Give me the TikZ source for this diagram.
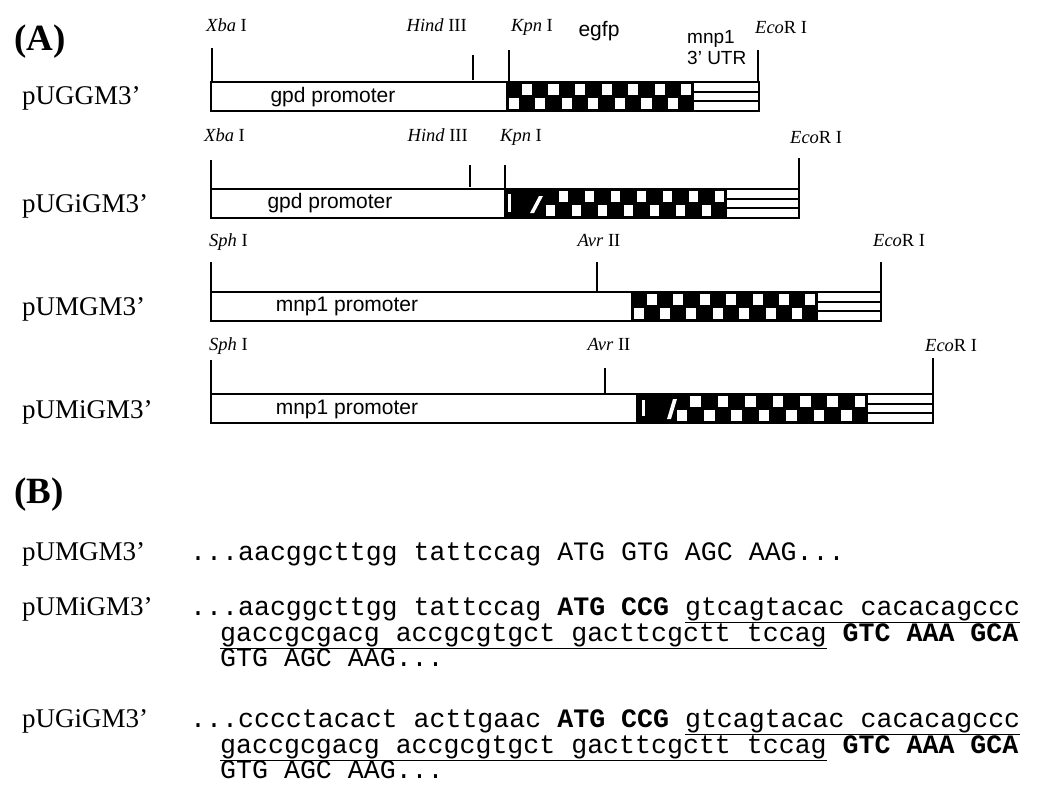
\documentclass[tikz,border=0pt]{standalone}
\usepackage{fontspec}
\setmainfont{Liberation Serif}
\setsansfont{Liberation Sans}
\setmonofont{Liberation Mono}
\usepackage{tikz}

\begin{document}
\begin{tikzpicture}[x=1pt, y=-1pt,
    panel/.style={font=\bfseries\fontsize{37}{39}\selectfont, anchor=base west, inner sep=0pt},
    plasmid/.style={font=\fontsize{27}{29}\selectfont, anchor=base west, inner sep=0pt},
    site/.style={font=\fontsize{18.5}{21}\selectfont, anchor=base, inner sep=0pt},
    part/.style={font=\sffamily\fontsize{21}{23}\selectfont, inner sep=0pt},
    cut/.style={line width=1.5pt},
    box/.style={draw, line width=2pt},
    seq/.style={font=\ttfamily\fontsize{26.6}{28}\selectfont, anchor=base west, inner sep=0pt}]
  \useasboundingbox (0,0) rectangle (1038,803);
  % (A) the four constructs
  \node[panel] (pa) at (14,50) {(A)};
  \foreach \y/\p/\i/\c/\u in {82/507/507/693/759, 189/505/544/726/799,
                              292/632/632/817/881, 394/637/675/867/933} {
    \pgfmathsetmacro{\w}{(\c-\i)/14}
    % egfp (and intron) in black, then the white squares
    \fill (\p,\y) rectangle (\c,\y+29);
    \foreach \k in {0,...,13} {
      \pgfmathsetmacro{\xa}{\i+\k*\w+1.6}
      \pgfmathsetmacro{\xb}{\i+(\k+1)*\w-1.6}
      \pgfmathtruncatemacro{\odd}{mod(\k,2)}
      \ifnum\odd=0
        \fill[white] (\xa,\y+16) rectangle (\xb,\y+27);
      \else
        \fill[white] (\xa,\y+2) rectangle (\xb,\y+13);
      \fi
    }
    % outline, promoter end, 3' UTR stripes
    \draw[box] (211,\y) rectangle (\u,\y+29);
    \draw[box] (\p,\y) -- (\p,\y+29);
    \draw[box] (\c,\y) -- (\c,\y+29);
    \draw[line width=2pt] (\c,\y+9.7) -- (\u,\y+9.7) (\c,\y+19.3) -- (\u,\y+19.3);
  }
  % intron marks
  \fill[white] (508,194) rectangle (511,212);
  \fill[white] (530,213) -- (534,213) -- (543,196) -- (539,196) -- cycle;
  \fill[white] (642,400) rectangle (645,416);
  \fill[white] (667,419) -- (671,419) -- (677,399) -- (673,399) -- cycle;
  % construct names
  \node[plasmid] (n1) at (22,104) {pUGGM3'};
  \node[plasmid] (n2) at (22,212) {pUGiGM3'};
  \node[plasmid] (n3) at (22,315) {pUMGM3'};
  \node[plasmid] (n4) at (22,418) {pUMiGM3'};
  % parts
  \node[part] (gpd1) at (333,97) {gpd promoter};
  \node[part] (gpd2) at (330,203) {gpd promoter};
  \node[part] (mnp3) at (347,306) {mnp1 promoter};
  \node[part] (mnp4) at (347,409) {mnp1 promoter};
  \node[part, anchor=base] (egfp) at (599,36) {egfp};
  \node[part, font=\sffamily\fontsize{19}{21}\selectfont, align=left, anchor=base west]
    (utr) at (687,64) {mnp1\\3' UTR};
  % restriction sites
  \foreach \x/\a/\b in {212/48/82, 473/55/80, 509/50/82, 758/50/82,
                        211/160/189, 470/165/187, 505/165/189, 799/158/189,
                        211/262/292, 597/262/292, 881/262/292,
                        211/360/394, 605/368/394, 933/358/394}
    \draw[cut] (\x,\a) -- (\x,\b);
  \node[site, anchor=base west] (x1) at (206,31) {\textit{Xba} I};
  \node[site, anchor=base east] (h1) at (467,31) {\textit{Hind} III};
  \node[site, anchor=base west] (k1) at (511,31) {\textit{Kpn} I};
  \node[site, anchor=base west] (e1) at (755,33) {\textit{Eco}R I};
  \node[site, anchor=base west] (x2) at (204,141) {\textit{Xba} I};
  \node[site, anchor=base east] (h2) at (468,141) {\textit{Hind} III};
  \node[site, anchor=base west] (k2) at (500,141) {\textit{Kpn} I};
  \node[site, anchor=base west] (e2) at (790,143) {\textit{Eco}R I};
  \node[site, anchor=base west] (s3) at (209,246) {\textit{Sph} I};
  \node[site] (a3) at (599,246) {\textit{Avr} II};
  \node[site, anchor=base west] (e3) at (873,246) {\textit{Eco}R I};
  \node[site, anchor=base west] (s4) at (209,350) {\textit{Sph} I};
  \node[site] (a4) at (609,350) {\textit{Avr} II};
  \node[site, anchor=base west] (e4) at (925,351) {\textit{Eco}R I};
  % (B) sequences at the start codon
  \node[panel] (pb) at (14,503) {(B)};
  \node[plasmid] (b1) at (22,560) {pUMGM3'};
  \node[seq] (q1) at (190,560) {...aacggcttgg tattccag ATG GTG AGC AAG...};
  \node[plasmid] (b2) at (22,615) {pUMiGM3'};
  \node[seq] (q2a) at (190,615)
    {...aacggcttgg tattccag \textbf{ATG CCG} \underline{gtcagtacac cacacagccc}};
  \node[seq] (q2b) at (220,641)
    {\underline{gaccgcgacg accgcgtgct gacttcgctt tccag} \textbf{GTC AAA GCA}};
  \node[seq] (q2c) at (220,666) {GTG AGC AAG...};
  \node[plasmid] (b3) at (22,727) {pUGiGM3'};
  \node[seq] (q3a) at (190,727)
    {...cccctacact acttgaac \textbf{ATG CCG} \underline{gtcagtacac cacacagccc}};
  \node[seq] (q3b) at (220,753)
    {\underline{gaccgcgacg accgcgtgct gacttcgctt tccag} \textbf{GTC AAA GCA}};
  \node[seq] (q3c) at (220,778) {GTG AGC AAG...};
\end{tikzpicture}
\end{document}
